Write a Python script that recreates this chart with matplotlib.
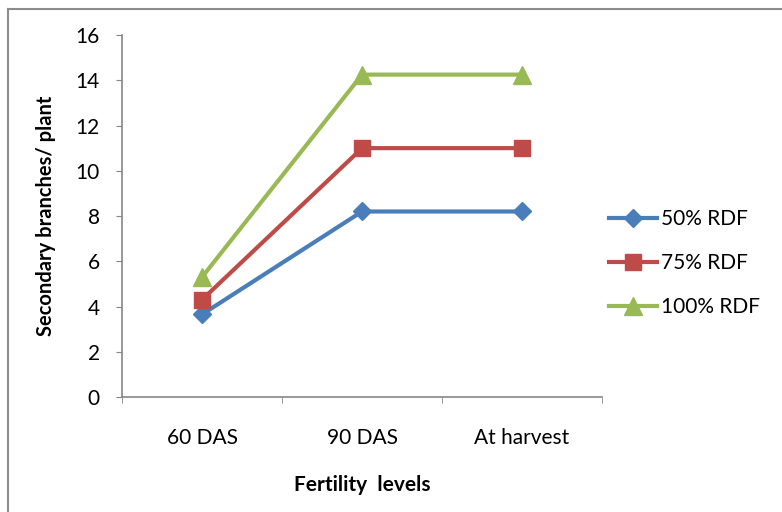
import numpy as np
import matplotlib.pyplot as plt
from matplotlib.lines import Line2D

plt.rcParams['font.family'] = ['Lato', 'DejaVu Sans']

stages = ['60 DAS', '90 DAS', 'At harvest']
rdf_50 = [3.65, 8.2, 8.2]
rdf_75 = [4.3, 11.0, 11.0]
rdf_100 = [5.3, 14.25, 14.25]

series = [
    ('50% RDF', rdf_50, '#4a7ebb', 'D', 9),
    ('75% RDF', rdf_75, '#be4b48', 's', 12),
    ('100% RDF', rdf_100, '#98b954', '^', 13),
]

fig = plt.figure(figsize=(7.82, 5.12), dpi=100)
ax = fig.add_axes([0.156, 0.2246, 0.614, 0.707])

x = np.arange(len(stages))
for name, vals, col, mk, ms in series:
    ax.plot(x, vals, color=col, lw=3, marker=mk, ms=ms, label=name,
            markeredgecolor=col)

ax.set_xlim(-0.5, 2.5)
ax.set_ylim(0, 16)
ax.set_yticks(range(0, 17, 2))
ax.set_xticks(x)
ax.set_xticklabels(stages)
ax.set_xticks([-0.5, 0.5, 1.5, 2.5], minor=True)
ax.tick_params(axis='x', which='major', length=0, pad=22, labelsize=15)
ax.tick_params(axis='x', which='minor', length=4, color='#868686')
ax.tick_params(axis='y', length=4, color='#868686', labelsize=15, pad=12)

for s in ['top', 'right']:
    ax.spines[s].set_visible(False)
for s in ['left', 'bottom']:
    ax.spines[s].set_color('#868686')
    ax.spines[s].set_linewidth(1.2)

ax.set_ylabel('Secondary branches/ plant', fontsize=14.5, fontweight='bold', labelpad=14)
ax.set_xlabel('Fertility  levels', fontsize=15, fontweight='bold', labelpad=20)

ax.legend(loc='center left', bbox_to_anchor=(0.975, 0.37), frameon=False,
          fontsize=15, handlelength=2.3, labelspacing=1.15, handletextpad=0.2)

# outer chart border
fig.add_artist(Line2D([0.0105, 0.0105], [0, 0.982], color='#8c8c8c', lw=1.5,
                      transform=fig.transFigure))
fig.add_artist(Line2D([0.0105, 1], [0.982, 0.982], color='#8c8c8c', lw=1.5,
                      transform=fig.transFigure))

fig.savefig('out.png', dpi=100)
